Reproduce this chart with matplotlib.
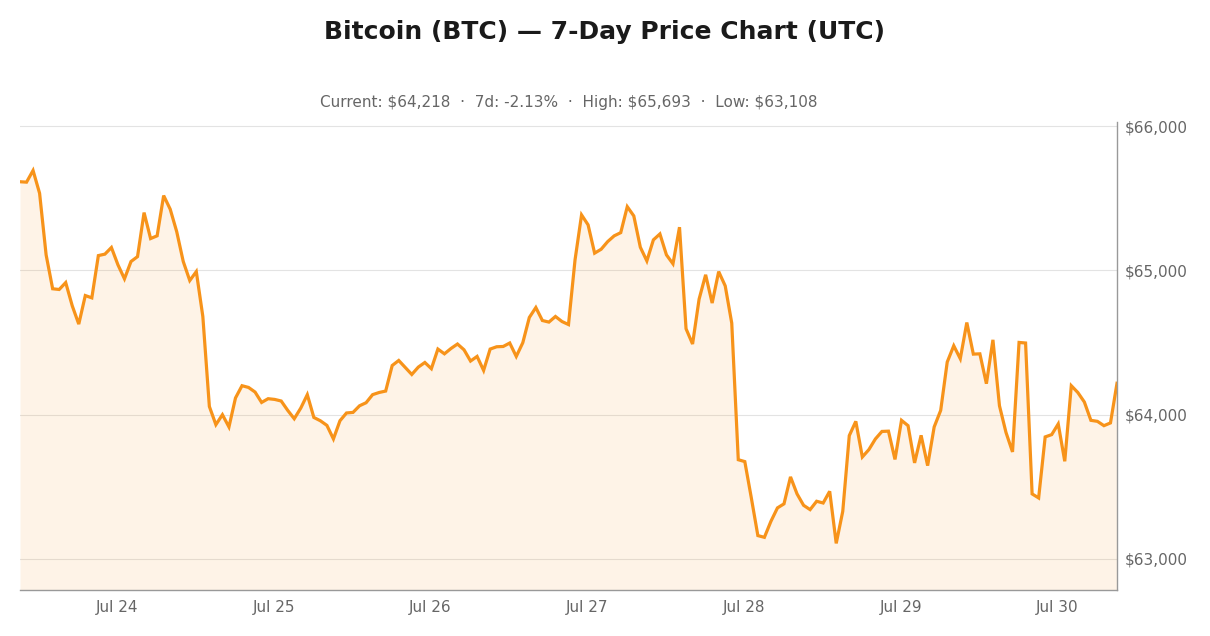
import pandas as pd
import matplotlib
matplotlib.use('Agg')
import matplotlib.pyplot as plt
import matplotlib.dates as mdates
from matplotlib.ticker import FuncFormatter

plt.rcParams['font.family'] = ['DejaVu Sans']

# hourly BTC prices (USD)
start_time = '2024-07-23 09:08'
prices = [
    65615, 65612, 65693, 65535, 65108, 64873, 64868, 64916, 64755, 64628,
    64826, 64810, 65103, 65113, 65159, 65039, 64942, 65062, 65096, 65401,
    65221, 65240, 65519, 65425, 65269, 65062, 64930, 64992, 64681, 64057,
    63931, 64000, 63915, 64116, 64201, 64189, 64157, 64085, 64111, 64106,
    64095, 64030, 63972, 64046, 64139, 63981, 63958, 63926, 63832, 63958,
    64012, 64016, 64062, 64083, 64139, 64154, 64164, 64341, 64376, 64328,
    64279, 64330, 64362, 64319, 64455, 64422, 64459, 64490, 64450, 64372,
    64404, 64307, 64455, 64471, 64473, 64497, 64404, 64499, 64674, 64743,
    64653, 64642, 64681, 64646, 64625, 65073, 65385, 65316, 65120, 65147,
    65200, 65240, 65262, 65442, 65378, 65161, 65066, 65212, 65253, 65108,
    65046, 65300, 64596, 64490, 64801, 64970, 64774, 64992, 64893, 64635,
    63688, 63675, 63423, 63162, 63150, 63261, 63354, 63382, 63569, 63451,
    63372, 63342, 63400, 63388, 63469, 63108, 63330, 63855, 63954, 63707,
    63758, 63832, 63884, 63886, 63690, 63961, 63924, 63666, 63857, 63647,
    63915, 64030, 64365, 64478, 64388, 64639, 64420, 64422, 64215, 64519,
    64062, 63877, 63742, 64501, 64497, 63451, 63423, 63846, 63862, 63936,
    63677, 64201, 64154, 64088, 63961, 63954, 63924, 63943, 64218,
]
y_ticks = [63000, 64000, 65000, 66000]

ORANGE = '#F7931A'
GREY = '#666666'


def main():
    times = pd.date_range(start_time, periods=len(prices), freq='h')
    s = pd.Series(prices, index=times)

    current = s.iloc[-1]
    change = (current / s.iloc[0] - 1) * 100
    hi, lo = s.max(), s.min()
    rng = hi - lo
    ymin, ymax = lo - rng * 0.125, hi + rng * 0.13

    fig = plt.figure(figsize=(12.1, 6.36), dpi=100)
    ax = fig.add_axes([20 / 1210, 1 - 590 / 636, 1097 / 1210, 468 / 636])

    ax.fill_between(s.index, s.values, ymin, color=ORANGE, alpha=0.1, lw=0)
    ax.plot(s.index, s.values, color=ORANGE, lw=2.3, solid_joinstyle='miter')

    ax.set_xlim(s.index[0], s.index[-1])
    ax.set_ylim(ymin, ymax)

    ax.yaxis.tick_right()
    ax.set_yticks(y_ticks)
    ax.yaxis.set_major_formatter(FuncFormatter(lambda v, p: f'${v:,.0f}'))
    ax.xaxis.set_major_locator(mdates.DayLocator())
    ax.xaxis.set_major_formatter(mdates.DateFormatter('%b %d'))
    ax.tick_params(axis='both', length=0, colors=GREY, labelsize=11)
    ax.tick_params(axis='x', pad=7.5)
    ax.tick_params(axis='y', pad=5.5)

    ax.grid(axis='y', color='#e3e3e3', lw=0.8)
    ax.set_axisbelow(True)
    for side in ('left', 'top'):
        ax.spines[side].set_visible(False)
    for side in ('right', 'bottom'):
        ax.spines[side].set_color('#999999')
        ax.spines[side].set_linewidth(1)

    fig.suptitle('Bitcoin (BTC) — 7-Day Price Chart (UTC)', y=0.968,
                 fontsize=18, fontweight='bold', color='#1a1a1a')
    sub = (f'Current: ${current:,.0f}  ·  7d: {change:.2f}%  ·  '
           f'High: ${hi:,.0f}  ·  Low: ${lo:,.0f}')
    ax.set_title(sub, fontsize=11, color=GREY, pad=11)

    fig.savefig('out.png', dpi=100, facecolor='white')


if __name__ == '__main__':
    main()
